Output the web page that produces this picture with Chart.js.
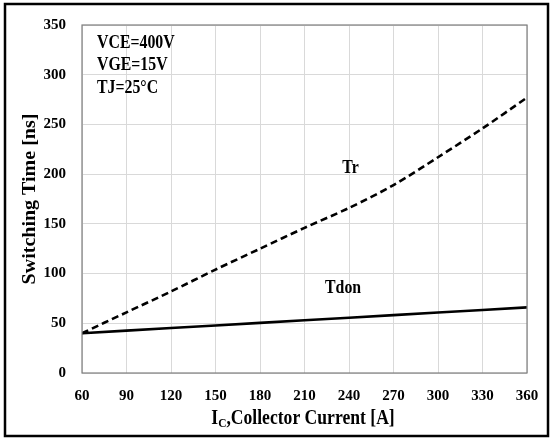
<!DOCTYPE html>
<html>
<head>
<meta charset="utf-8">
<script src="https://cdn.jsdelivr.net/npm/chart.js@4/dist/chart.umd.min.js"></script>
<style>
  html, body { margin: 0; padding: 0; background: #fff; }
  #wrap { width: 553px; height: 440px; position: relative; }
</style>
</head>
<body>
<div id="wrap"><canvas id="c" width="553" height="440"></canvas></div>
<script>
// Dữ liệu
const currents = [60, 90, 120, 150, 180, 210, 240, 270, 300, 330, 360];
const trValues = [40, 61, 82, 104, 125, 146, 166, 189, 217, 246, 277];
const tdonValues = [40, 42.6, 45.2, 47.8, 50.4, 53, 55.6, 58.2, 60.8, 63.4, 66];
const conditions = ['VCE=400V', 'VGE=15V', 'TJ=25°C'];

const serif = '"Liberation Serif", "Times New Roman", serif';

function toPoints(ys) {
  return currents.map((x, i) => ({ x, y: ys[i] }));
}

// chữ hơi hẹp theo chiều ngang như hình gốc
function narrowText(ctx, text, x, y, align) {
  ctx.save();
  ctx.translate(x, y);
  ctx.scale(0.88, 1);
  ctx.textAlign = align;
  ctx.fillText(text, 0, 0);
  ctx.restore();
}

// Vẽ khung, chữ chú thích và tiêu đề trục
const decor = {
  id: 'decor',
  afterDraw(chart) {
    const ctx = chart.ctx;
    const xs = chart.scales.x, ys = chart.scales.y;
    const area = chart.chartArea;
    ctx.save();
    // khung ngoài
    ctx.strokeStyle = '#000';
    ctx.lineWidth = 2.5;
    ctx.strokeRect(5, 4, 543, 432);
    // viền vùng vẽ
    ctx.strokeStyle = '#7f7f7f';
    ctx.lineWidth = 1.2;
    ctx.strokeRect(area.left, area.top, area.right - area.left, area.bottom - area.top);

    ctx.fillStyle = '#000';
    ctx.textBaseline = 'middle';
    ctx.font = 'bold 18px ' + serif;
    conditions.forEach((t, i) => narrowText(ctx, t, 97, 43 + i * 22.5, 'left'));

    narrowText(ctx, 'Tr', xs.getPixelForValue(241), ys.getPixelForValue(206), 'center');
    narrowText(ctx, 'Tdon', xs.getPixelForValue(236), ys.getPixelForValue(85), 'center');

    // tiêu đề trục y
    ctx.save();
    ctx.translate(30, 199);
    ctx.rotate(-Math.PI / 2);
    ctx.scale(1, 0.9);
    ctx.textAlign = 'center';
    ctx.font = 'bold 20px ' + serif;
    ctx.fillText('Switching Time [ns]', 0, 0);
    ctx.restore();

    // tiêu đề trục x với chỉ số dưới
    const p1 = 'I', p3 = ',Collector Current [A]';
    ctx.font = 'bold 20px ' + serif;
    const w1 = ctx.measureText(p1).width;
    const w3 = ctx.measureText(p3).width;
    ctx.font = 'bold 13px ' + serif;
    const w2 = ctx.measureText('C').width;
    ctx.save();
    ctx.translate(303, 419);
    ctx.scale(0.88, 1);
    ctx.textAlign = 'left';
    let x = -(w1 + w2 + w3) / 2;
    ctx.font = 'bold 20px ' + serif;
    ctx.fillText(p1, x, 0);
    x += w1;
    ctx.font = 'bold 13px ' + serif;
    ctx.fillText('C', x, 5);
    x += w2;
    ctx.font = 'bold 20px ' + serif;
    ctx.fillText(p3, x, 0);
    ctx.restore();
    ctx.restore();
  }
};

new Chart(document.getElementById('c'), {
  type: 'line',
  data: {
    datasets: [
      {
        label: 'Tr',
        data: toPoints(trValues),
        borderColor: '#000',
        borderWidth: 2.6,
        borderDash: [7, 4],
        pointRadius: 0,
        tension: 0.3,
        fill: false
      },
      {
        label: 'Tdon',
        data: toPoints(tdonValues),
        borderColor: '#000',
        borderWidth: 2.6,
        pointRadius: 0,
        tension: 0,
        fill: false
      }
    ]
  },
  options: {
    responsive: false,
    animation: false,
    layout: { padding: { left: 0, top: 24, right: 26, bottom: 0 } },
    plugins: { legend: { display: false }, tooltip: { enabled: false } },
    scales: {
      x: {
        type: 'linear',
        min: 60, max: 360,
        afterFit(s) { s.height = 67; },
        grid: { color: '#d9d9d9', lineWidth: 1, drawTicks: false },
        border: { display: false },
        ticks: { stepSize: 30, padding: 14, color: '#000', font: { family: serif, size: 15, weight: 'bold' } }
      },
      y: {
        min: 0, max: 350,
        afterFit(s) { s.width = 82; },
        grid: { color: '#d9d9d9', lineWidth: 1, drawTicks: false },
        border: { display: false },
        ticks: { stepSize: 50, padding: 16, color: '#000', font: { family: serif, size: 15, weight: 'bold' } }
      }
    }
  },
  plugins: [decor]
});
</script>
</body>
</html>
